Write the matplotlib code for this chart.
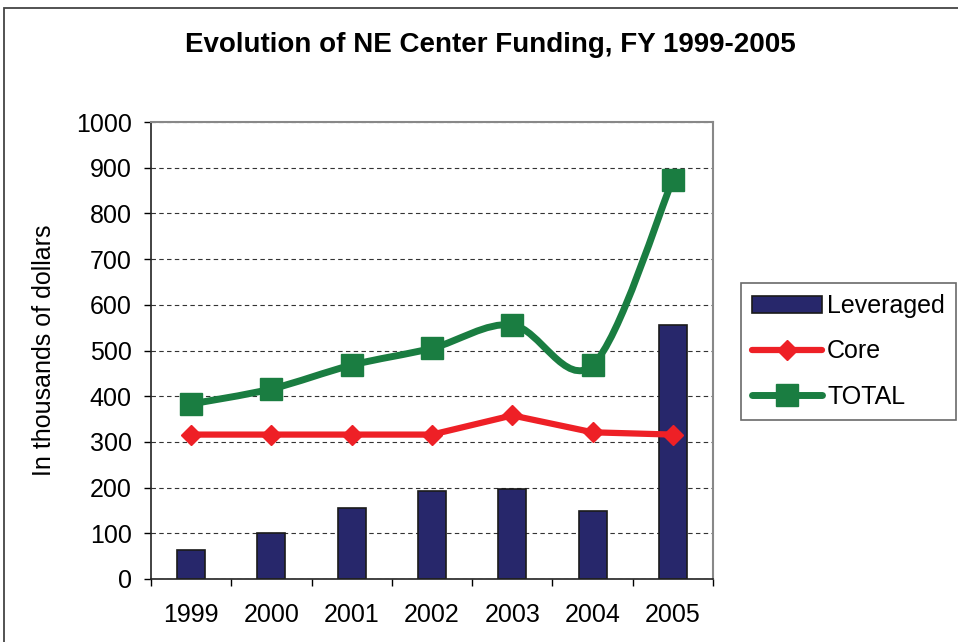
import matplotlib.pyplot as plt
import numpy as np
from matplotlib.path import Path
from matplotlib.patches import PathPatch, Rectangle
from matplotlib.lines import Line2D

plt.rcParams['font.family'] = ['Liberation Sans', 'DejaVu Sans']

years = ['1999', '2000', '2001', '2002', '2003', '2004', '2005']
leveraged = [63, 101, 155, 193, 198, 149, 556]
core = [316, 316, 316, 316, 358, 321, 316]
total = [383, 416, 468, 505, 556, 468, 874]

navy = '#27276b'
red = '#ee2026'
green = '#1a7d41'


def smooth_path(xs, ys):
    """Excel-like smoothed line: cubic bezier through the points"""
    pts = np.column_stack([xs, ys]).astype(float)
    n = len(pts)
    verts = [pts[0]]
    codes = [Path.MOVETO]
    for i in range(n - 1):
        p0 = pts[max(i - 1, 0)]
        p1 = pts[i]
        p2 = pts[i + 1]
        p3 = pts[min(i + 2, n - 1)]
        c1 = p1 + (p2 - p0) / 6.0
        c2 = p2 - (p3 - p1) / 6.0
        verts += [c1, c2, p2]
        codes += [Path.CURVE4] * 3
    return Path(verts, codes)


fig = plt.figure(figsize=(9.58, 6.42), dpi=100)
fig.patches.append(Rectangle((4 / 958, -0.1), 1.2, 1 - 8 / 642 + 0.1,
                             transform=fig.transFigure, fill=False,
                             edgecolor='#444444', linewidth=1.3))

ax = fig.add_axes([151 / 958, 1 - 579 / 642, 562 / 958, 457 / 642])
x = np.arange(len(years))

ax.bar(x, leveraged, width=0.35, color=navy, edgecolor='#1a1a1a',
       linewidth=1.2, zorder=2)

# smoothed total line
ax.add_patch(PathPatch(smooth_path(x, total), facecolor='none',
                       edgecolor=green, linewidth=5, zorder=3,
                       capstyle='round', joinstyle='round'))
ax.plot(x, total, linestyle='none', marker='s', markersize=16,
        color=green, zorder=4)

ax.plot(x, core, color=red, linewidth=4.5, marker='D', markersize=10,
        zorder=5, solid_joinstyle='round')

ax.set_xlim(-0.5, 6.5)
ax.set_ylim(0, 1000)
ax.set_yticks(range(0, 1001, 100))
ax.set_xticks(x)
ax.set_xticklabels(years)
ax.set_xticks(np.arange(-0.5, 7, 1), minor=True)
ax.tick_params(axis='x', which='major', length=0, pad=17, labelsize=18)
ax.tick_params(axis='x', which='minor', length=5, width=1, direction='out')
ax.tick_params(axis='y', length=5, width=1, direction='out', labelsize=18,
               pad=9)

ax.grid(axis='y', linestyle=(0, (4, 3)), color='#333333', linewidth=0.8,
        zorder=0)
ax.set_axisbelow(True)

for side in ['top', 'right']:
    ax.spines[side].set_color('#888888')
    ax.spines[side].set_linewidth(1.5)
for side in ['left', 'bottom']:
    ax.spines[side].set_color('#222222')
    ax.spines[side].set_linewidth(1.2)

ax.set_ylabel('In thousands of dollars', fontsize=18, labelpad=14)

fig.text(490 / 958, 1 - 45 / 642, 'Evolution of NE Center Funding, FY 1999-2005',
         ha='center', va='center', fontsize=20, fontweight='bold')

handles = [
    Rectangle((0, 0), 1, 1, facecolor=navy, edgecolor='#1a1a1a', linewidth=1.2),
    Line2D([], [], color=red, linewidth=4.5, marker='D', markersize=10,
           solid_capstyle='round'),
    Line2D([], [], color=green, linewidth=5, marker='s', markersize=16,
           solid_capstyle='round'),
]
leg = fig.legend(handles, ['Leveraged', 'Core', 'TOTAL'], loc='upper left',
                 bbox_to_anchor=(741 / 958, 1 - 283 / 642), fontsize=18,
                 frameon=True, fancybox=False, handlelength=2.8,
                 handletextpad=0.2, labelspacing=0.85, borderpad=0.45,
                 borderaxespad=0)
leg.get_frame().set_edgecolor('#444444')
leg.get_frame().set_linewidth(1.2)

plt.savefig('out.png', dpi=100)
